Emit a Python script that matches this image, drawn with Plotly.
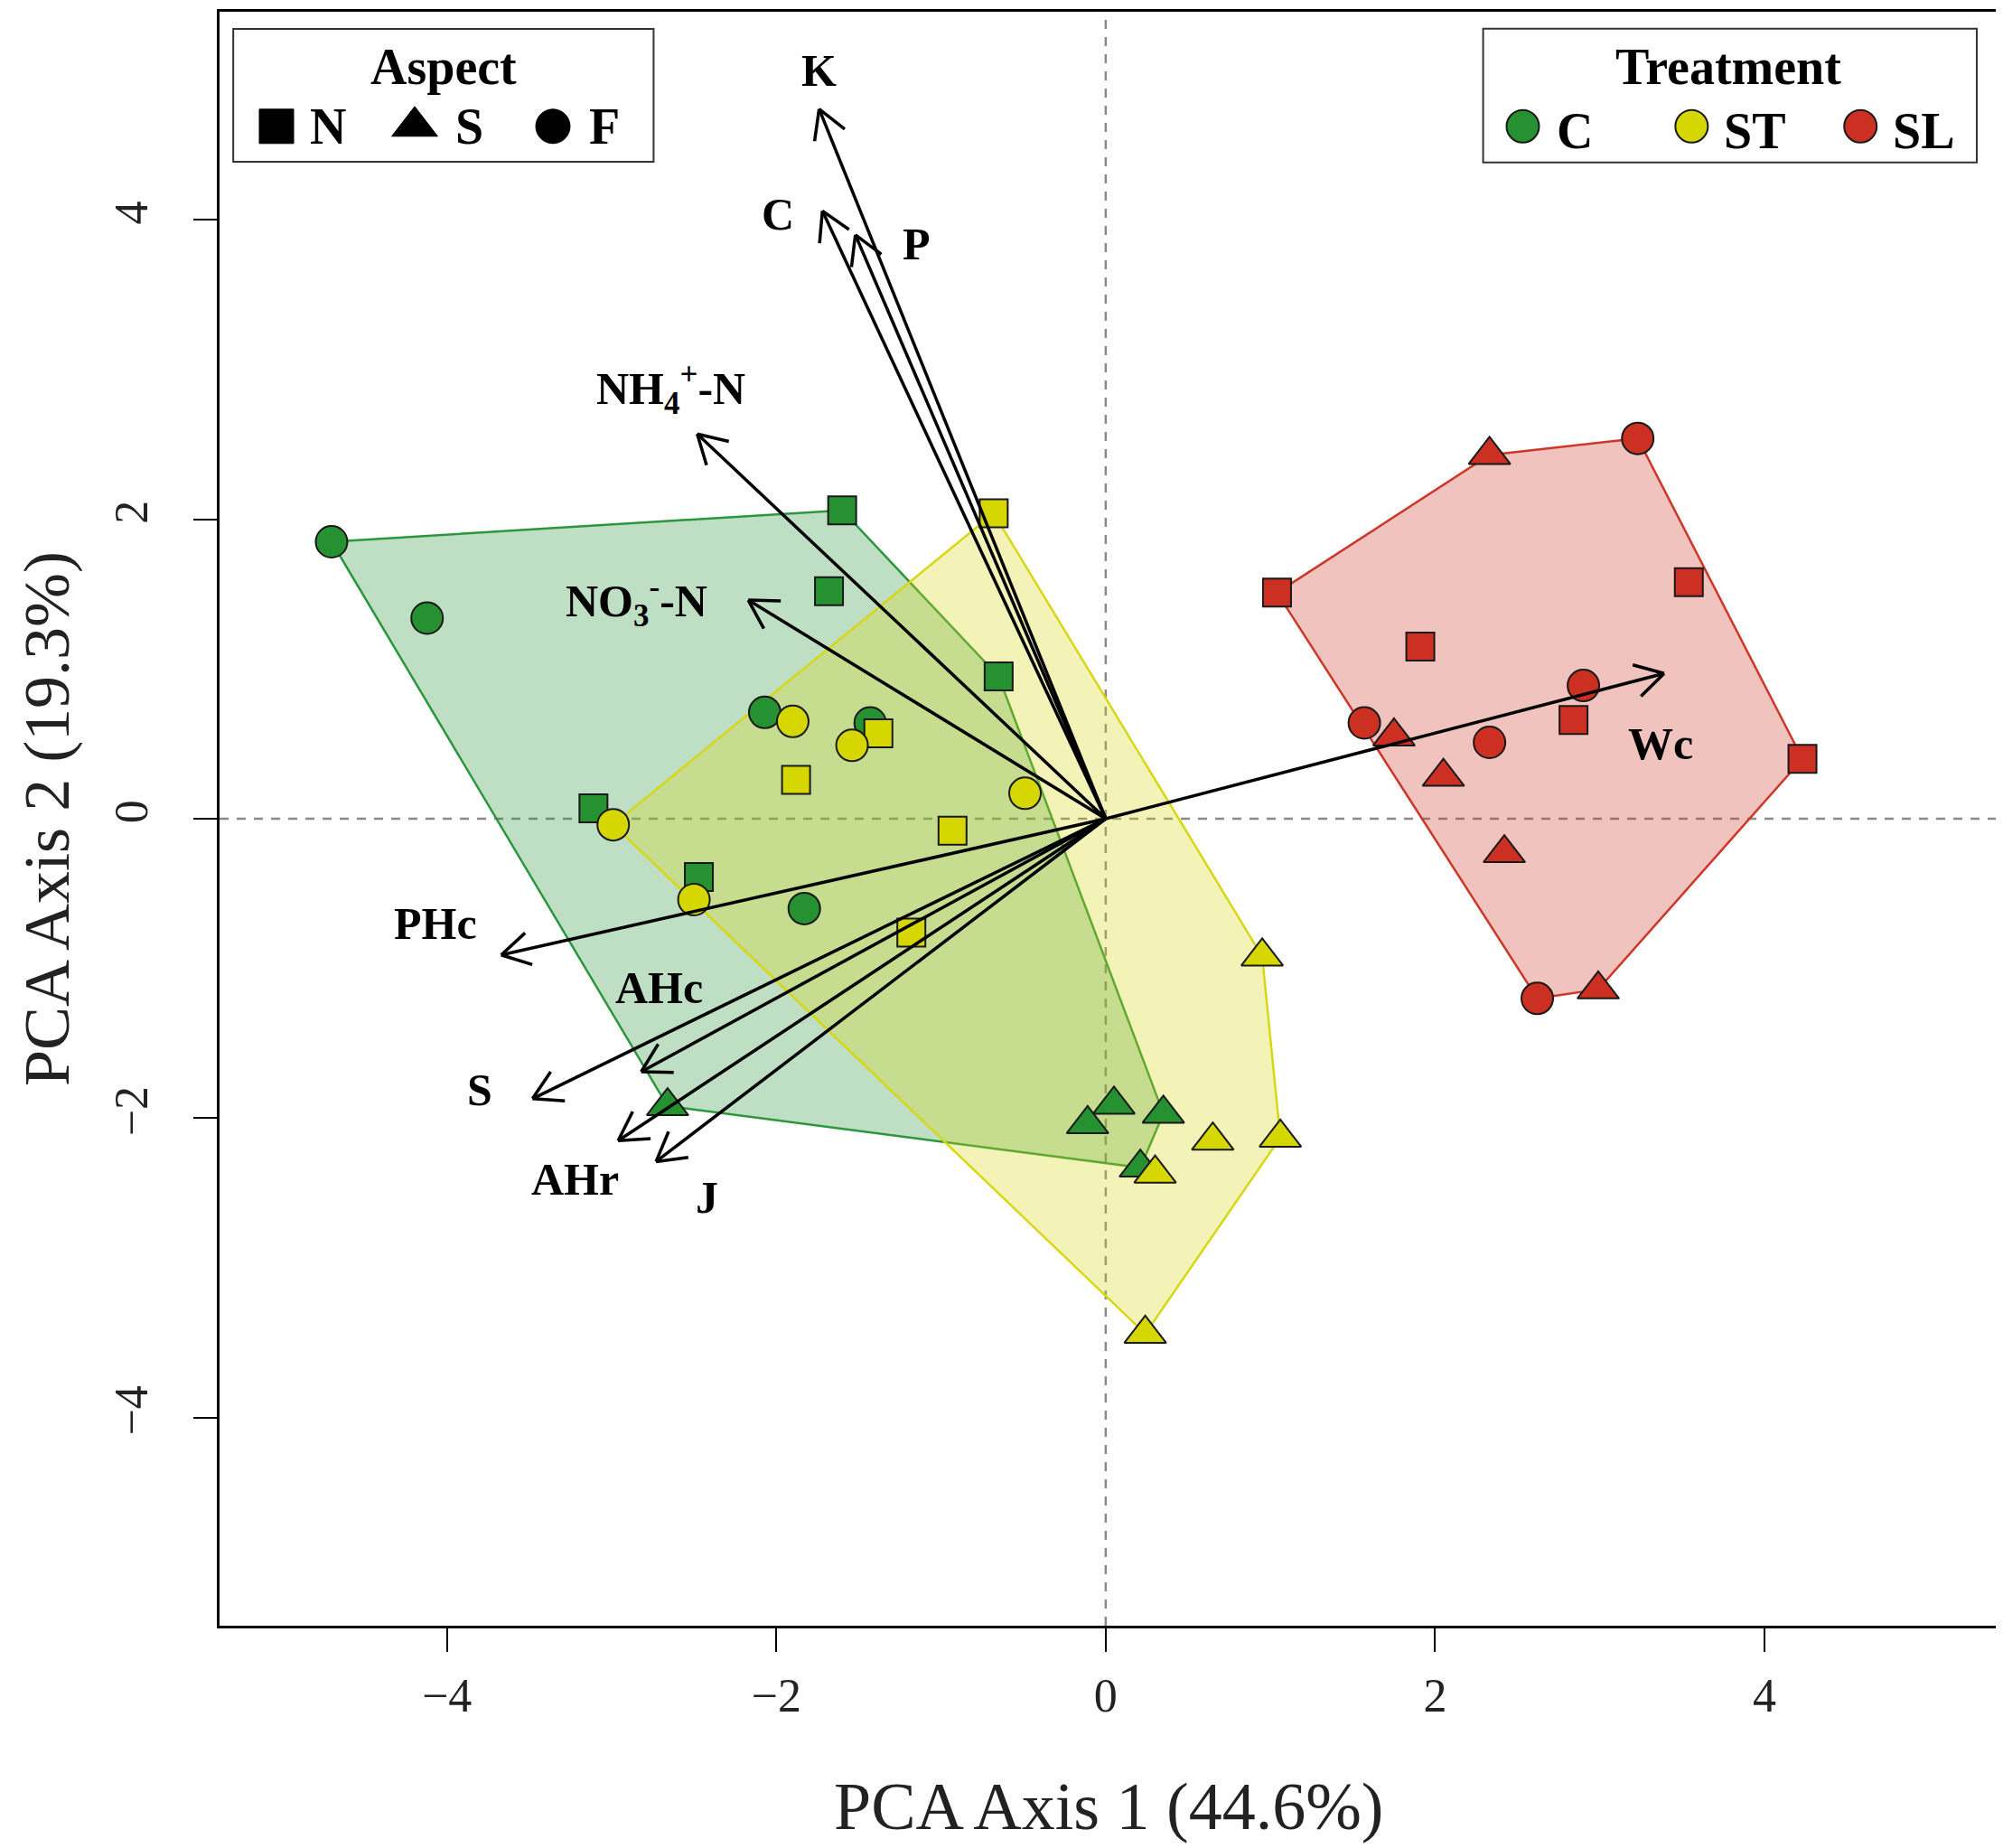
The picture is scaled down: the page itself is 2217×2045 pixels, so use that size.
import math
import plotly.graph_objects as go

# PCA site scores, one set per treatment
c_pc1 = [-4.70, -4.12, -1.60, -1.68, -0.65, -2.07, -1.43, -3.11, -2.47, -1.83, -2.66, 0.05, -0.11, 0.35, 0.21]
c_pc2 = [1.85, 1.34, 2.06, 1.52, 0.95, 0.71, 0.64, 0.07, -0.39, -0.60, -1.92, -1.91, -2.04, -1.97, -2.33]
c_aspect = ["F", "F", "N", "N", "N", "F", "F", "N", "N", "F", "S", "S", "S", "S", "S"]

st_pc1 = [-0.68, -1.38, -1.88, -0.93, -1.18, -1.90, -1.54, -0.49, -2.99, -2.50, 0.95, 0.65, 1.06, 0.30, 0.24]
st_pc2 = [2.04, 0.57, 0.26, -0.08, -0.76, 0.65, 0.49, 0.17, -0.04, -0.54, -0.92, -2.15, -2.13, -2.37, -3.44]
st_aspect = ["N", "N", "N", "N", "N", "F", "F", "F", "F", "F", "S", "S", "S", "S", "S"]

sl_pc1 = [1.04, 3.54, 1.91, 2.84, 4.23, 3.23, 2.90, 1.57, 2.33, 2.62, 2.33, 1.75, 2.05, 2.42, 2.99]
sl_pc2 = [1.51, 1.58, 1.15, 0.66, 0.40, 2.54, 0.89, 0.64, 0.51, -1.20, 2.43, 0.55, 0.28, -0.23, -1.14]
sl_aspect = ["N", "N", "N", "N", "N", "F", "F", "F", "F", "F", "S", "S", "S", "S", "S"]

# variable loadings (arrow tips) and where their labels sit
var_names = ["K", "C", "P", "NH<sub>4</sub><sup>+</sup>-N", "NO<sub>3</sub><sup>-</sup>-N",
             "PHc", "AHc", "S", "AHr", "J", "Wc"]
var_pc1 = [-1.74, -1.72, -1.52, -2.48, -2.17, -3.67, -2.82, -3.48, -2.96, -2.73, 3.39]
var_pc2 = [4.74, 4.06, 3.90, 2.57, 1.46, -0.91, -1.69, -1.87, -2.15, -2.29, 0.97]
lab_pc1 = [-1.74, -1.99, -1.15, -2.64, -2.85, -4.07, -2.71, -3.80, -3.22, -2.42, 3.37]
lab_pc2 = [5.00, 4.04, 3.84, 2.87, 1.45, -0.70, -1.13, -1.81, -2.41, -2.53, 0.50]

treatments = ["C", "ST", "SL"]
aspects = ["N", "S", "F"]

# page body keeps its 8px margin, so the figure is 8px smaller than the window
W, H = 2209, 2037
ML, MR, MT, MB = 235, 4, 2, 246
X_RANGE = [-5.38, 5.42]
Y_RANGE = [-5.39, 5.39]
FONT = "Liberation Serif, Times New Roman, serif"

mark_col = {"C": "rgb(38,145,48)", "ST": "rgb(214,214,0)", "SL": "rgb(204,48,34)"}
line_col = {"C": "rgb(44,150,60)", "ST": "rgb(215,215,20)", "SL": "rgb(205,55,40)"}
fill_col = {"C": "rgba(44,150,60,0.3)", "ST": "rgba(215,215,20,0.3)", "SL": "rgba(205,55,40,0.3)"}
symbols = {"N": "square", "S": "triangle-up", "F": "circle"}
sizes = {"N": 31, "S": 40, "F": 35}


def convex_hull(xs, ys):
    pts = sorted(set(zip(xs, ys)))

    def cross(o, a, b):
        return (a[0] - o[0]) * (b[1] - o[1]) - (a[1] - o[1]) * (b[0] - o[0])

    lower, upper = [], []
    for p in pts:
        while len(lower) >= 2 and cross(lower[-2], lower[-1], p) <= 0:
            lower.pop()
        lower.append(p)
    for p in reversed(pts):
        while len(upper) >= 2 and cross(upper[-2], upper[-1], p) <= 0:
            upper.pop()
        upper.append(p)
    h = lower[:-1] + upper[:-1]
    h.append(h[0])
    return [p[0] for p in h], [p[1] for p in h]


groups = {
    "C": (c_pc1, c_pc2, c_aspect),
    "ST": (st_pc1, st_pc2, st_aspect),
    "SL": (sl_pc1, sl_pc2, sl_aspect),
}

fig = go.Figure()

# hulls first, then points
for t in treatments:
    xs, ys, _ = groups[t]
    hx, hy = convex_hull(xs, ys)
    fig.add_trace(go.Scatter(x=hx, y=hy, mode="lines", fill="toself",
                             fillcolor=fill_col[t], line=dict(color=line_col[t], width=2.5),
                             hoverinfo="skip", showlegend=False))

for t in treatments:
    xs, ys, asp = groups[t]
    fig.add_trace(go.Scatter(
        x=xs, y=ys, mode="markers", showlegend=False, name=t,
        marker=dict(symbol=[symbols[a] for a in asp], size=[sizes[a] for a in asp],
                    color=mark_col[t], opacity=1,
                    line=dict(color="rgb(25,25,25)", width=2))))

# arrows: shaft + open V head, head drawn in pixel space so it looks right
sx = (W - ML - MR) / (X_RANGE[1] - X_RANGE[0])
sy = (H - MT - MB) / (Y_RANGE[1] - Y_RANGE[0])
HEAD = 36
ax, ay = [], []
for x, y in zip(var_pc1, var_pc2):
    px, py = x * sx, y * sy
    L = math.hypot(px, py)
    ux, uy = -px / L, -py / L
    ax += [0, x, None]
    ay += [0, y, None]
    for ang in (math.radians(30), math.radians(-30)):
        hx = math.cos(ang) * ux - math.sin(ang) * uy
        hy = math.sin(ang) * ux + math.cos(ang) * uy
        ax += [x, (px + HEAD * hx) / sx, None]
        ay += [y, (py + HEAD * hy) / sy, None]
fig.add_trace(go.Scatter(x=ax, y=ay, mode="lines", line=dict(color="black", width=3.5),
                         hoverinfo="skip", showlegend=False))

for name, x, y in zip(var_names, lab_pc1, lab_pc2):
    fig.add_annotation(x=x, y=y, text="<b>" + name + "</b>", showarrow=False,
                       xanchor="center", yanchor="middle",
                       font=dict(family=FONT, size=50, color="black"))

# legends, drawn by hand on an overlay axis spanning the plot area
leg_x = [0.0320, 0.1097, 0.1874]
leg_tx = [0.0611, 0.1404, 0.2165]
trt_x = [0.7326, 0.8275, 0.9224]
trt_tx = [0.7620, 0.8631, 0.9580]
LEG_Y = 0.929

fig.add_trace(go.Scatter(x=leg_x, y=[LEG_Y] * 3, xaxis="x2", yaxis="y2", mode="markers",
                         marker=dict(symbol=[symbols[a] for a in aspects], size=[38, 44, 38],
                                     color="#000000", opacity=1,
                                     line=dict(color="#000000", width=1)),
                         hoverinfo="skip", showlegend=False))
fig.add_trace(go.Scatter(x=trt_x, y=[LEG_Y] * 3, xaxis="x2", yaxis="y2", mode="markers",
                         marker=dict(symbol="circle", size=36, opacity=1,
                                     color=[mark_col[t] for t in treatments],
                                     line=dict(color="rgb(25,25,25)", width=2)),
                         hoverinfo="skip", showlegend=False))

for a, x in zip(aspects, leg_tx):
    fig.add_annotation(xref="paper", yref="paper", x=x, y=LEG_Y, text="<b>" + a + "</b>",
                       showarrow=False, xanchor="center", yanchor="middle",
                       font=dict(family=FONT, size=56, color="black"))
for t, x in zip(treatments, trt_tx):
    fig.add_annotation(xref="paper", yref="paper", x=x, y=LEG_Y - 0.003, text="<b>" + t + "</b>",
                       showarrow=False, xanchor="center", yanchor="middle",
                       font=dict(family=FONT, size=56, color="black"))
fig.add_annotation(xref="paper", yref="paper", x=0.1259, y=0.9656, text="<b>Aspect</b>",
                   showarrow=False, xanchor="center", yanchor="middle",
                   font=dict(family=FONT, size=56, color="black"))
fig.add_annotation(xref="paper", yref="paper", x=0.8483, y=0.9660, text="<b>Treatment</b>",
                   showarrow=False, xanchor="center", yanchor="middle",
                   font=dict(family=FONT, size=56, color="black"))
fig.add_shape(type="rect", xref="paper", yref="paper", x0=0.0077, x1=0.2440, y0=0.9071, y1=0.9893,
              line=dict(color="#333", width=2), fillcolor="white", layer="below")
fig.add_shape(type="rect", xref="paper", yref="paper", x0=0.7103, x1=0.9878, y0=0.9067, y1=0.9895,
              line=dict(color="#333", width=2), fillcolor="white", layer="below")

# zero reference lines
fig.add_shape(type="line", xref="x", yref="paper", x0=0, x1=0, y0=0, y1=1,
              line=dict(color="#8a8a8a", width=2.5, dash="10px,9px"), layer="below")
fig.add_shape(type="line", xref="paper", yref="y", x0=0, x1=1, y0=0, y1=0,
              line=dict(color="#8a8a8a", width=2.5, dash="10px,9px"), layer="below")

# axis titles
fig.add_annotation(xref="paper", yref="paper", x=0.5, y=-0.112, text="PCA Axis 1 (44.6%)",
                   showarrow=False, xanchor="center", yanchor="middle",
                   font=dict(family=FONT, size=74, color="#222"))
fig.add_annotation(xref="paper", yref="paper", x=-0.097, y=0.5, text="PCA Axis 2 (19.3%)",
                   textangle=-90, showarrow=False, xanchor="center", yanchor="middle",
                   font=dict(family=FONT, size=72, color="#222"))

axis_common = dict(showgrid=False, zeroline=False, showline=True, mirror=True,
                   linecolor="black", linewidth=3, ticks="outside", ticklen=26, tickwidth=2,
                   tickcolor="black", tickvals=[-4, -2, 0, 2, 4],
                   tickfont=dict(family=FONT, size=52, color="#222"))

fig.update_layout(
    width=W, height=H,
    margin=dict(l=ML, r=MR, t=MT, b=MB),
    paper_bgcolor="white", plot_bgcolor="white",
    xaxis=dict(range=X_RANGE, ticklabelstandoff=4, **axis_common),
    yaxis=dict(range=Y_RANGE, tickangle=-90, ticklabelstandoff=30, **axis_common),
    xaxis2=dict(range=[0, 1], overlaying="x", visible=False),
    yaxis2=dict(range=[0, 1], overlaying="y", visible=False),
    showlegend=False,
)

fig.write_html("out.html")
